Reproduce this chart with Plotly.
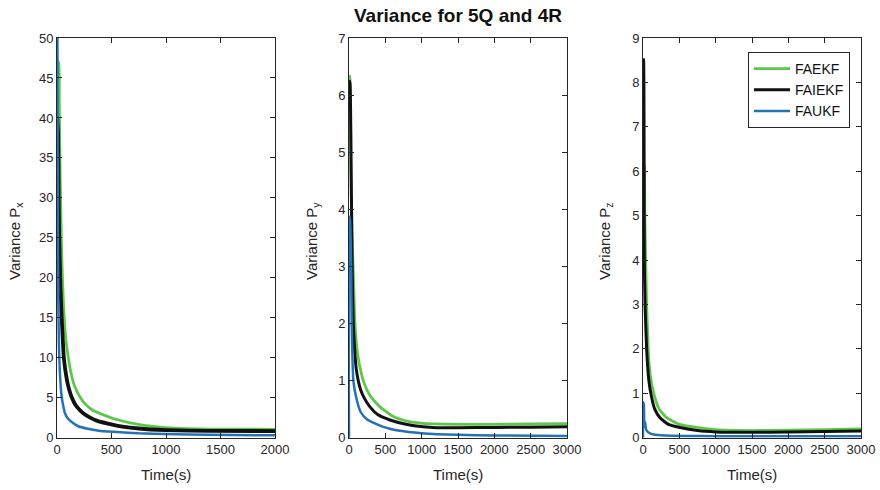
import plotly.graph_objects as go

# ---- Variance of the x position (P_x), time 0..2000 s ----
px_t_faekf = [5, 15, 21, 30, 45, 60, 80, 104, 130, 160, 211, 260, 320, 400, 486, 580, 670, 800, 1000, 1200, 1400, 2000]
px_faekf = [47, 47, 42, 32, 22, 16.5, 12.5, 10, 8.0, 6.5, 5.1, 4.2, 3.5, 3.0, 2.55, 2.15, 1.85, 1.55, 1.25, 1.12, 1.07, 1.05]
px_t_faiekf = [2, 10, 15, 20, 30, 43, 64, 90, 110, 134, 170, 200, 241, 300, 370, 456, 600, 750, 1000, 1400, 2000]
px_faiekf = [40, 38, 30, 25, 19.5, 15, 9.8, 7.3, 6.1, 5.1, 4.1, 3.6, 3.05, 2.55, 2.1, 1.8, 1.4, 1.15, 0.95, 0.86, 0.83]
px_t_faukf = [0, 4, 8, 12, 18, 25, 35, 43, 60, 73, 100, 150, 200, 272, 400, 548, 750, 1000, 1400, 2000]
px_faukf = [80, 50, 27, 17, 11.5, 8.5, 6.2, 5.1, 3.8, 3.05, 2.4, 1.8, 1.4, 1.15, 0.85, 0.72, 0.55, 0.45, 0.36, 0.3]

# ---- Variance of the y position (P_y), time 0..3000 s ----
py_t_faekf = [3, 12, 25, 40, 59, 82, 120, 160, 197, 250, 300, 427, 610, 800, 1020, 1500, 2000, 2500, 3000]
py_faekf = [6.35, 6.3, 5.0, 3.6, 2.9, 2.0, 1.45, 1.18, 1.0, 0.83, 0.72, 0.54, 0.37, 0.29, 0.25, 0.235, 0.235, 0.24, 0.245]
py_t_faiekf = [3, 14, 30, 45, 59, 80, 100, 127, 160, 200, 288, 400, 564, 800, 1020, 1200, 1500, 2000, 2500, 3000]
py_faiekf = [6.26, 6.2, 4.6, 2.9, 2.0, 1.5, 1.2, 1.0, 0.84, 0.72, 0.54, 0.4, 0.31, 0.23, 0.19, 0.175, 0.175, 0.18, 0.185, 0.19]
py_t_faukf = [0, 3, 15, 25, 30, 37, 60, 100, 160, 250, 472, 700, 1000, 1500, 2000, 3000]
py_faukf = [0, 3.87, 3.8, 3.3, 2.9, 2.0, 1.0, 0.7, 0.45, 0.32, 0.19, 0.12, 0.08, 0.05, 0.04, 0.03]

# ---- Variance of the z position (P_z), time 0..3000 s ----
pz_t_faekf = [5, 20, 25, 37, 50, 73, 100, 151, 220, 326, 500, 739, 1000, 1500, 2000, 2500, 3000]
pz_faekf = [5.5, 6.12, 5.0, 4.0, 3.0, 1.96, 1.4, 0.98, 0.65, 0.45, 0.3, 0.23, 0.18, 0.16, 0.17, 0.18, 0.2]
pz_t_faiekf = [2, 8, 18, 28, 51, 80, 110, 160, 234, 350, 509, 750, 1000, 1500, 2000, 2500, 3000]
pz_faiekf = [8.54, 8.5, 4.0, 3.0, 1.96, 1.3, 0.98, 0.65, 0.45, 0.3, 0.23, 0.16, 0.13, 0.12, 0.13, 0.14, 0.15]
pz_t_faukf = [0, 3, 12, 18, 25, 30, 40, 60, 96, 150, 300, 600, 1000, 2000, 3000]
pz_faukf = [0, 0.8, 0.75, 0.3, 0.25, 0.35, 0.2, 0.14, 0.1, 0.07, 0.05, 0.04, 0.035, 0.03, 0.03]

series_names = ["FAEKF", "FAIEKF", "FAUKF"]
colors = ["#5cc84a", "#111111", "#2372b8"]
# line widths per panel: FAEKF, FAIEKF, FAUKF
widths = [[2.8, 3.8, 2.5], [2.8, 3.0, 2.5], [2.8, 3.0, 2.5]]

panels = [
    ([px_t_faekf, px_t_faiekf, px_t_faukf], [px_faekf, px_faiekf, px_faukf], "x", [0, 2000], [0, 50], 5),
    ([py_t_faekf, py_t_faiekf, py_t_faukf], [py_faekf, py_faiekf, py_faukf], "y", [0, 3000], [0, 7], 1),
    ([pz_t_faekf, pz_t_faiekf, pz_t_faukf], [pz_faekf, pz_faiekf, pz_faukf], "z", [0, 3000], [0, 9], 1),
]

W, H = 880, 490
x_domains = [(57, 275), (349, 567), (643, 861)]
ytitle_x = [15, 312, 605]
y_top, y_bot = 38, 437.7

font = "Liberation Sans, Arial, sans-serif"
axis_color = "#262626"

fig = go.Figure()
layout = dict(
    width=W, height=H,
    margin=dict(l=0, r=0, t=0, b=0, autoexpand=False),
    paper_bgcolor="white", plot_bgcolor="white",
    font=dict(family=font, size=13, color="#262626"),
    showlegend=True,
    legend=dict(
        x=850 / W, y=1 - 52 / H, xanchor="right", yanchor="top",
        bordercolor=axis_color, borderwidth=1, bgcolor="white",
        font=dict(size=14, color="#111111"),
        tracegroupgap=0, itemwidth=36,
    ),
    annotations=[],
)

for i, (ts, vs, comp, xr, yr, ydt) in enumerate(panels):
    n = "" if i == 0 else str(i + 1)
    xa, ya = "x" + n, "y" + n
    for k in range(3):
        fig.add_trace(go.Scatter(
            x=ts[k], y=vs[k], mode="lines", name=series_names[k],
            line=dict(color=colors[k], width=widths[i][k], shape="spline", smoothing=0.5),
            xaxis=xa, yaxis=ya,
            showlegend=(i == 2), legendrank=k,
        ))
    x0, x1 = x_domains[i]
    common = dict(
        showline=True, linecolor=axis_color, linewidth=1, mirror="ticks",
        ticks="inside", ticklen=5, tickcolor=axis_color,
        showgrid=False, zeroline=False, automargin=False,
        tickfont=dict(size=13, color="#262626", family=font),
    )
    layout["xaxis" + n] = dict(
        domain=[x0 / W, x1 / W], range=xr, anchor=ya,
        tick0=0, dtick=500, **common,
    )
    layout["yaxis" + n] = dict(
        domain=[1 - y_bot / H, 1 - y_top / H], range=yr, anchor=xa,
        tick0=0, dtick=ydt, **common,
    )
    # axis titles
    layout["annotations"].append(dict(
        text="Time(s)", x=(x0 + x1) / 2 / W, y=1 - 474 / H,
        xref="paper", yref="paper", showarrow=False,
        xanchor="center", yanchor="middle",
        font=dict(size=15, color="#262626", family=font),
    ))
    layout["annotations"].append(dict(
        text=f"Variance P<sub>{comp}</sub>", x=ytitle_x[i] / W, y=1 - 241 / H,
        xref="paper", yref="paper", showarrow=False, textangle=-90,
        xanchor="center", yanchor="middle",
        font=dict(size=15, color="#262626", family=font),
    ))

layout["annotations"].append(dict(
    text="<b>Variance for 5Q and 4R</b>", x=458 / W, y=1 - 16 / H,
    xref="paper", yref="paper", showarrow=False,
    xanchor="center", yanchor="middle",
    font=dict(size=19, color="#111111", family=font),
))

fig.update_layout(**layout)
fig.write_html("out.html")
